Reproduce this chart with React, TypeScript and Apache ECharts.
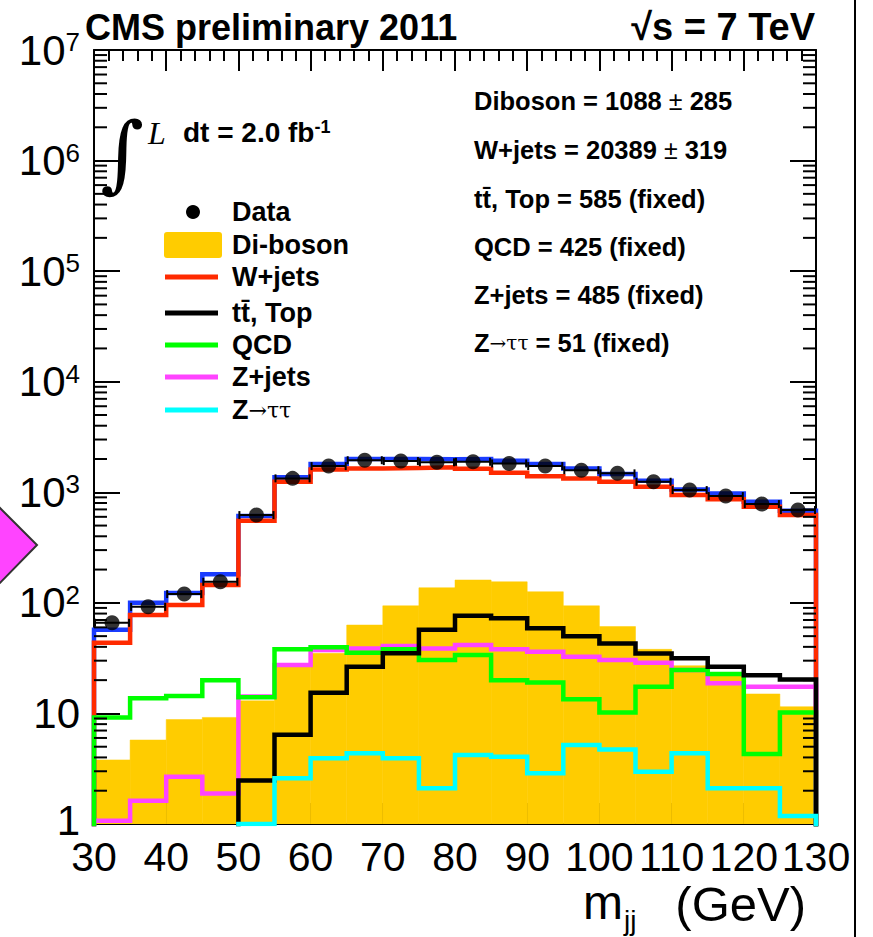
import React, { useEffect, useRef } from 'react';
import * as echarts from 'echarts';

// ---- data ----
const binLow = [30, 35, 40, 45, 50, 55, 60, 65, 70, 75, 80, 85, 90, 95, 100, 105, 110, 115, 120, 125];
const BIN_W = 5;
const dataCounts = [66, 92, 120, 155, 622, 1336, 1725, 1950, 1915, 1870, 1888, 1824, 1725, 1585, 1483, 1245, 1047, 924, 782, 690];
const totalMC = [57, 100, 123, 181, 609, 1365, 1798, 2000, 2000, 1990, 2000, 1928, 1798, 1645, 1461, 1271, 1062, 977, 820, 681];
const wjets = [43.6, 77.6, 95.6, 145, 552, 1245, 1610, 1645, 1660, 1680, 1632, 1500, 1400, 1336, 1245, 1122, 944, 863, 739, 622];
const diboson = [3.8, 5.75, 8.8, 9.2, 13, 27, 35, 63, 94, 137, 161, 155, 126, 94, 61, 38, 27, 22, 15, 11.5];
const ttTop = [0, 0, 0, 0, 2.47, 6.4, 15.4, 26.4, 35, 57, 76.5, 72.4, 58.8, 50, 43, 34.9, 31.5, 26.4, 22.2, 20.3];
const qcd = [9.2, 13.7, 14.4, 20, 14, 38, 39.6, 35.4, 38, 30.4, 33.7, 20, 19, 13.4, 10.2, 17.4, 24.7, 22.7, 4.3, 10.2];
const zjets = [1.07, 1.62, 2.68, 1.89, 14.2, 27.4, 37.4, 38.7, 40.7, 38.7, 41.5, 38, 36.1, 32.6, 30.4, 28.7, 24.7, 18.7, 17.4, 17.4];
const ztautau = [0, 0, 0, 0, 1, 2.59, 3.93, 4.36, 3.93, 2.1, 4.2, 4.06, 2.87, 5.18, 4.73, 2.97, 4.36, 2.1, 2.1, 1.18];

const legendNames = ['Data', 'Di-boson', 'W+jets', 'tt\u0304, Top', 'QCD', 'Z+jets', 'Z\u2192\u03c4\u03c4'];
const fitLines = [
  ['Diboson = 1088 ', '\u00b1', ' 285'],
  ['W+jets = 20389 ', '\u00b1', ' 319'],
  ['tt\u0304, Top = 585 (fixed)'],
  ['QCD = 425 (fixed)'],
  ['Z+jets = 485 (fixed)'],
  ['Z', '\u2192\u03c4\u03c4', ' = 51 (fixed)'],
];

const C_RED = '#ff2a00';
const C_BLUE = '#1a3cff';
const C_YEL = '#ffcc00';
const C_GREEN = '#00ff00';
const C_MAG = '#ff44ff';
const C_CYAN = '#00ffff';
const SANS = '"Liberation Sans", Arial, Helvetica, sans-serif';
const FLOOR = 1e-3;

function stepPoints(vals: number[]) {
  const pts: number[][] = [[binLow[0], FLOOR]];
  vals.forEach((v, i) => {
    const y = v > 0 ? v : FLOOR;
    pts.push([binLow[i], y]);
    pts.push([binLow[i] + BIN_W, y]);
  });
  pts.push([binLow[binLow.length - 1] + BIN_W, FLOOR]);
  return pts;
}

function lineSeries(name: string, vals: number[], color: string, z: number) {
  return {
    type: 'line',
    name,
    data: stepPoints(vals),
    showSymbol: false,
    symbol: 'none',
    clip: true,
    lineStyle: { color, width: 4.5, join: 'miter' },
    z,
    silent: true,
  };
}

export default function App() {
  const ref = useRef<HTMLDivElement>(null);
  useEffect(() => {
    if (!ref.current) return;
    const chart = echarts.init(ref.current, undefined, { renderer: 'svg' });

    const minorY: number[] = [];
    for (let e = 0; e < 7; e++) for (let m = 2; m <= 9; m++) minorY.push(m * Math.pow(10, e));

    const legendY = [212, 245, 277, 313, 345, 377, 410];
    const legendColors = [null, C_YEL, C_RED, '#000', C_GREEN, C_MAG, C_CYAN];
    const legendEls: any[] = [];
    legendNames.forEach((name, i) => {
      const y = legendY[i];
      if (i === 0) {
        legendEls.push({ type: 'circle', shape: { cx: 193, cy: y, r: 7 }, style: { fill: '#000' } });
      } else if (i === 1) {
        legendEls.push({ type: 'rect', shape: { x: 164, y: y - 13, width: 58, height: 26, r: 3 }, style: { fill: C_YEL } });
      } else {
        legendEls.push({ type: 'line', shape: { x1: 165, y1: y, x2: 218, y2: y }, style: { stroke: legendColors[i], lineWidth: 5 } });
      }
      if (i === 6) {
        legendEls.push({
          type: 'text', x: 232, y,
          style: {
            text: '{b|Z}{n|\u2192\u03c4\u03c4}', textVerticalAlign: 'middle',
            rich: {
              b: { font: `bold 27px ${SANS}`, fill: '#000' },
              n: { font: `22px "DejaVu Serif", serif`, fill: '#000' },
            },
          },
        });
      } else {
        legendEls.push({
          type: 'text', x: 232, y,
          style: { text: name, font: `bold 27px ${SANS}`, fill: '#000', textVerticalAlign: 'middle' },
        });
      }
    });

    const fitY = [101, 150, 199, 247, 295, 343];
    const fitEls = fitLines.map((parts, i) => {
      let text = '';
      if (parts.length === 3 && i < 2) text = `{b|${parts[0]}}{n|${parts[1]}}{b|${parts[2]}}`;
      else if (parts.length === 3) text = `{b|${parts[0]}}{s|${parts[1]}}{b|${parts[2]}}`;
      else text = `{b|${parts[0]}}`;
      return {
        type: 'text', x: 474, y: fitY[i],
        style: {
          text, textVerticalAlign: 'middle',
          rich: {
            b: { font: `bold 25.5px ${SANS}`, fill: '#000' },
            n: { font: `25px ${SANS}`, fill: '#000' },
            s: { font: `20px "DejaVu Serif", serif`, fill: '#000' },
          },
        },
      };
    });

    const option: any = {
      animation: false,
      backgroundColor: '#fff',
      grid: { left: 94, top: 50, width: 722, height: 774, containLabel: false },
      xAxis: [
        {
          type: 'value', min: 30, max: 130, interval: 10, position: 'bottom',
          axisLine: { show: true, onZero: false, lineStyle: { color: '#000', width: 2 } },
          axisTick: { show: true, inside: true, length: 21, lineStyle: { color: '#000', width: 2 } },
          minorTick: { show: true, splitNumber: 5, length: 11, lineStyle: { color: '#000', width: 2 } },
          axisLabel: { color: '#000', fontSize: 41, lineHeight: 36, fontFamily: SANS, margin: 15 },
          splitLine: { show: false },
        },
        {
          type: 'value', min: 30, max: 130, interval: 10, position: 'top',
          axisLine: { show: true, onZero: false, lineStyle: { color: '#000', width: 2 } },
          axisTick: { show: true, inside: true, length: 21, lineStyle: { color: '#000', width: 2 } },
          minorTick: { show: true, splitNumber: 5, length: 11, lineStyle: { color: '#000', width: 2 } },
          axisLabel: { show: false },
          splitLine: { show: false },
        },
      ],
      yAxis: [
        {
          type: 'log', logBase: 10, min: 1, max: 1e7, position: 'left',
          axisLine: { show: true, onZero: false, lineStyle: { color: '#000', width: 2 } },
          axisTick: { show: true, inside: true, length: 26, lineStyle: { color: '#000', width: 2 } },
          axisLabel: {
            margin: 14,
            formatter: (v: number) => {
              const e = Math.round(Math.log10(v));
              if (e === 0) return '{o|1}';
              if (e === 1) return '{b|10}';
              return `{b|10}{s|${e}}`;
            },
            rich: {
              o: { fontSize: 42, lineHeight: 28, padding: [0, 0, 8, 0], fontFamily: SANS, color: '#000' },
              b: { fontSize: 42, fontFamily: SANS, color: '#000', verticalAlign: 'bottom' },
              s: { fontSize: 26, fontFamily: SANS, color: '#000', verticalAlign: 'top' },
            },
          },
          splitLine: { show: false },
        },
        {
          type: 'log', logBase: 10, min: 1, max: 1e7, position: 'right',
          axisLine: { show: true, onZero: false, lineStyle: { color: '#000', width: 2 } },
          axisTick: { show: true, inside: true, length: 26, lineStyle: { color: '#000', width: 2 } },
          axisLabel: { show: false },
          splitLine: { show: false },
        },
      ],
      series: [
        {
          type: 'custom', name: 'Di-boson', z: 1, silent: true, clip: true,
          data: binLow.map((lo, i) => [lo, lo + BIN_W, diboson[i]]),
          renderItem: (params: any, api: any) => {
            const p0 = api.coord([api.value(0), api.value(2)]);
            const p1 = api.coord([api.value(1), 1]);
            return {
              type: 'rect',
              shape: { x: p0[0], y: p0[1], width: p1[0] - p0[0], height: p1[1] - p0[1] },
              style: { fill: C_YEL, stroke: C_YEL, lineWidth: 0.5 },
            };
          },
        },
        lineSeries('W+jets', wjets, C_RED, 3),
        lineSeries('Total', totalMC, C_BLUE, 2),
        lineSeries('Z+jets', zjets, C_MAG, 4),
        lineSeries('QCD', qcd, C_GREEN, 5),
        lineSeries('tt, Top', ttTop, '#000', 6),
        lineSeries('Z->tautau', ztautau, C_CYAN, 7),
        {
          type: 'custom', name: 'yMinorTicks', z: 8, silent: true,
          data: minorY,
          renderItem: (params: any, api: any) => {
            const v = api.value(0);
            const l = api.coord([30, v]);
            const r = api.coord([130, v]);
            return {
              type: 'group',
              children: [
                { type: 'line', shape: { x1: l[0], y1: l[1], x2: l[0] + 13, y2: l[1] }, style: { stroke: '#000', lineWidth: 2 } },
                { type: 'line', shape: { x1: r[0], y1: r[1], x2: r[0] - 13, y2: r[1] }, style: { stroke: '#000', lineWidth: 2 } },
              ],
            };
          },
          encode: { y: 0 },
        },
        {
          type: 'custom', name: 'DataErr', z: 9, silent: true,
          data: binLow.map((lo, i) => [lo, lo + BIN_W, dataCounts[i]]),
          renderItem: (params: any, api: any) => {
            const a = api.coord([api.value(0), api.value(2)]);
            const b = api.coord([api.value(1), api.value(2)]);
            const st = { stroke: '#000', lineWidth: 2 };
            return {
              type: 'group',
              children: [
                { type: 'line', shape: { x1: a[0] + 1, y1: a[1], x2: b[0] - 1, y2: b[1] }, style: st },
                { type: 'line', shape: { x1: a[0] + 1, y1: a[1] - 4, x2: a[0] + 1, y2: a[1] + 4 }, style: st },
                { type: 'line', shape: { x1: b[0] - 1, y1: b[1] - 4, x2: b[0] - 1, y2: b[1] + 4 }, style: st },
              ],
            };
          },
        },
        {
          type: 'scatter', name: 'Data', z: 10, silent: true,
          symbol: 'circle', symbolSize: 15,
          itemStyle: { color: '#000' },
          data: binLow.map((lo, i) => [lo + BIN_W / 2, dataCounts[i]]),
        },
      ],
      graphic: [
        { type: 'line', shape: { x1: 855, y1: 0, x2: 855, y2: 937 }, style: { stroke: '#000', lineWidth: 2 } },
        {
          type: 'polygon',
          shape: { points: [[-48, 545], [-5, 503], [37, 545], [-5, 588]] },
          style: { fill: C_MAG, stroke: '#333', lineWidth: 2 },
        },
        { type: 'text', x: 85, y: 27, style: { text: 'CMS preliminary 2011', font: `bold 36px ${SANS}`, fill: '#000', textVerticalAlign: 'middle' } },
        { type: 'text', x: 815, y: 27, style: { text: '\u221as = 7 TeV', font: `bold 38px ${SANS}`, fill: '#000', textAlign: 'right', textVerticalAlign: 'middle' } },
        { type: 'text', x: 122, y: 153, style: { text: '\u222b', font: `84px "DejaVu Serif", serif`, fill: '#000', textAlign: 'center', textVerticalAlign: 'middle' } },
        { type: 'text', x: 148, y: 133, style: { text: 'L', font: `italic 32px "Liberation Serif", serif`, fill: '#000', textVerticalAlign: 'middle' } },
        {
          type: 'text', x: 183, y: 132,
          style: {
            text: '{b|dt = 2.0 fb}{s|-1}', textVerticalAlign: 'middle',
            rich: {
              b: { font: `bold 28px ${SANS}`, fill: '#000', verticalAlign: 'bottom' },
              s: { font: `bold 18px ${SANS}`, fill: '#000', verticalAlign: 'top' },
            },
          },
        },
        ...legendEls,
        ...fitEls,
        { type: 'text', x: 583, y: 902, style: { text: 'm', font: `48px ${SANS}`, fill: '#000', textVerticalAlign: 'middle' } },
        { type: 'text', x: 624, y: 920, style: { text: 'jj', font: `28px ${SANS}`, fill: '#000', textVerticalAlign: 'middle' } },
        { type: 'text', x: 806, y: 904, style: { text: '(GeV)', font: `49px ${SANS}`, fill: '#000', textAlign: 'right', textVerticalAlign: 'middle' } },
      ],
    };
    chart.setOption(option);
    return () => chart.dispose();
  }, []);
  return <div ref={ref} style={{ position: 'fixed', left: 0, top: 0, width: 873, height: 937, background: '#fff' }} />;
}
